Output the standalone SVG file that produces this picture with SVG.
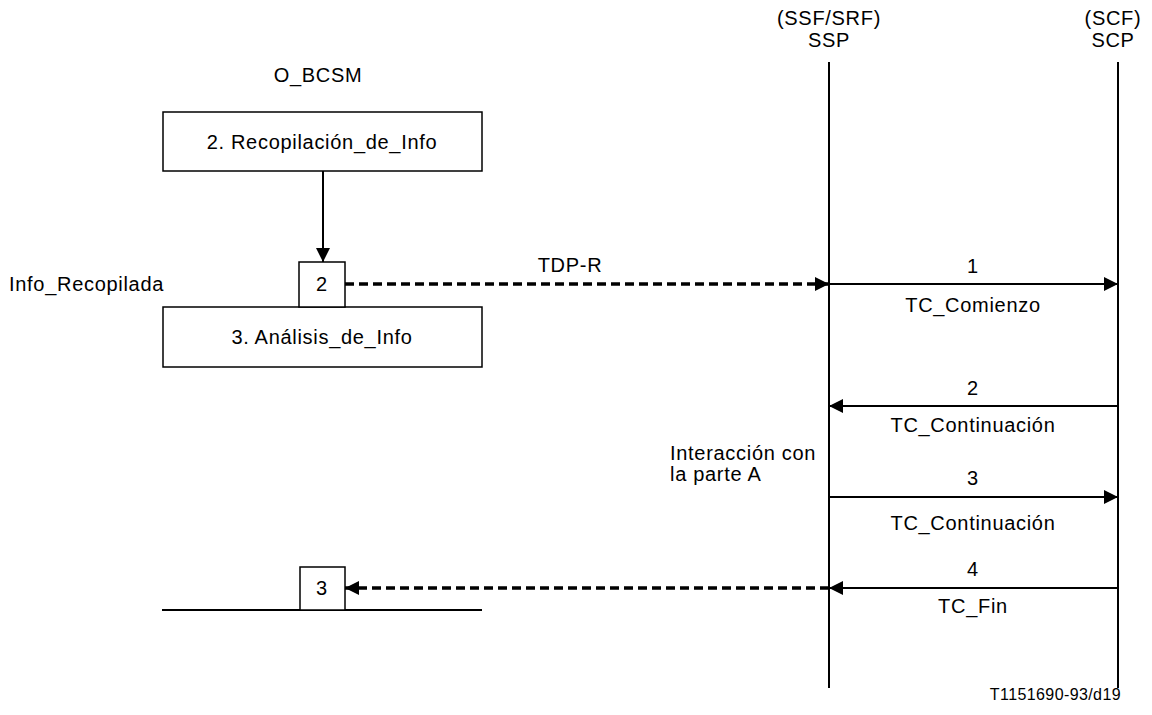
<svg xmlns="http://www.w3.org/2000/svg" width="1152" height="715" viewBox="0 0 1152 715">
<style>
text{font-family:"Liberation Sans",Arial,sans-serif;font-size:20px;fill:#000;letter-spacing:0.7px}
.c{text-anchor:middle}
.box{fill:#fff;stroke:#000;stroke-width:1.5}
.life{stroke:#000;stroke-width:2}
.msg{stroke:#000;stroke-width:2;fill:none}
.dash{stroke:#000;stroke-width:3.5;fill:none;stroke-dasharray:9,5}
</style>
<defs>
<marker id="ah" viewBox="0 0 10 10" refX="10" refY="5" markerWidth="15" markerHeight="14" markerUnits="userSpaceOnUse" orient="auto"><path d="M0,0 L10,5 L0,10 z" fill="#000"/></marker>
</defs>
<g id="header">
<text class="c" x="829" y="25">(SSF/SRF)</text>
<text class="c" x="829" y="47">SSP</text>
<text class="c" x="1113" y="25">(SCF)</text>
<text class="c" x="1113" y="47">SCP</text>
<text class="c" x="318" y="82">O_BCSM</text>
</g>
<g id="lifelines">
<line class="life" x1="829" y1="62" x2="829" y2="688"/>
<line class="life" x1="1118" y1="62" x2="1118" y2="688"/>
</g>
<g id="recopilacion">
<rect class="box" x="163" y="112" width="319" height="59"/>
<text class="c" x="322" y="149">2. Recopilación_de_Info</text>
</g>
<g id="analisis">
<rect class="box" x="163" y="307" width="319" height="60"/>
<text class="c" x="322" y="344">3. Análisis_de_Info</text>
</g>
<g id="pic2">
<rect class="box" x="299" y="262" width="46" height="45"/>
<text class="c" x="322" y="291">2</text>
</g>
<g id="pic3">
<line stroke="#000" stroke-width="2" x1="162" y1="610" x2="482" y2="610"/>
<rect class="box" x="300" y="567" width="45" height="43"/>
<text class="c" x="322" y="595">3</text>
</g>
<g id="labels">
<text x="9" y="291">Info_Recopilada</text>
<text x="670" y="460">Interacción con</text>
<text x="670" y="481">la parte A</text>
<text x="1121" y="700" style="text-anchor:end;font-size:16px;letter-spacing:0.4px">T1151690-93/d19</text>
</g>
<g id="connectors">
<line class="msg" x1="323" y1="171" x2="323" y2="262" marker-end="url(#ah)"/>
<line class="dash" x1="345" y1="284" x2="829" y2="284" marker-end="url(#ah)"/>
<line class="msg" x1="829" y1="284" x2="1118" y2="284" marker-end="url(#ah)"/>
<line class="msg" x1="1118" y1="406" x2="829" y2="406" marker-end="url(#ah)"/>
<line class="msg" x1="829" y1="497" x2="1118" y2="497" marker-end="url(#ah)"/>
<line class="msg" x1="1118" y1="588" x2="829" y2="588" marker-end="url(#ah)"/>
<line class="dash" x1="829" y1="588" x2="345" y2="588" marker-end="url(#ah)"/>
</g>
<g id="msglabels">
<text class="c" x="570" y="272">TDP-R</text>
<text class="c" x="973" y="273">1</text>
<text class="c" x="973" y="312">TC_Comienzo</text>
<text class="c" x="973" y="395">2</text>
<text class="c" x="973" y="432">TC_Continuación</text>
<text class="c" x="973" y="485">3</text>
<text class="c" x="973" y="530">TC_Continuación</text>
<text class="c" x="973" y="576">4</text>
<text class="c" x="973" y="613">TC_Fin</text>
</g>
</svg>
